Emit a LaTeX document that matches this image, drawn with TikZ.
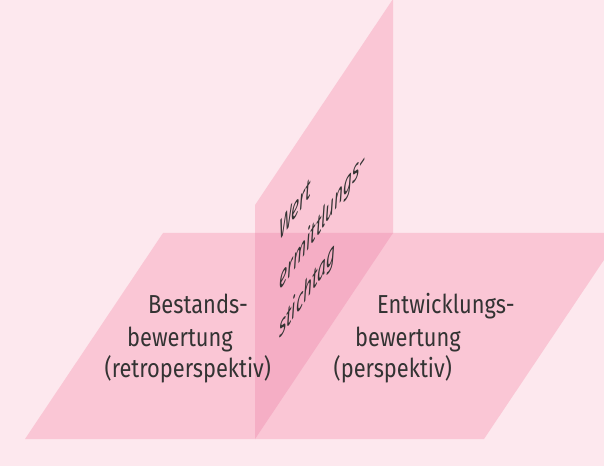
\documentclass[tikz,border=0pt]{standalone}
\usepackage{fontspec}
\setmainfont{Fira Sans}[FakeStretch=0.84]
\begin{document}
\begin{tikzpicture}[x=1pt,y=1pt,
  lbl/.style={anchor=base west, inner sep=0pt, text=ink, font=\fontsize{26}{30}\selectfont},
  slnt/.style={anchor=base west, inner sep=0pt, text=ink, transform shape, font=\fontsize{28}{32}\selectfont\itshape}]
\definecolor{bg}{HTML}{FDE8EE}
\definecolor{plane}{HTML}{FAC6D5}
\definecolor{both}{HTML}{F5AEC5}
\definecolor{ink}{HTML}{333333}
\useasboundingbox (0,0) rectangle (604,466);
\fill[bg] (0,0) rectangle (604,466);
\clip (0,0) rectangle (604,466);
% floor plane
\fill[plane] (25,27) -- (484,27) -- (622,233) -- (163,233) -- cycle;
% vertical plane
\fill[plane] (255,27) -- (393,233) -- (393,467) -- (255,261) -- cycle;
% overlap
\fill[both] (255,27) -- (393,233) -- (255,233) -- cycle;
% labels
\node[lbl] (b1) at (148,153) {Bestands-};
\node[lbl] (b2) at (127,120) {bewertung};
\node[lbl] (b3) at (104.5,89) {(retroperspektiv)};
\node[lbl] (e1) at (377,153) {Entwicklungs-};
\node[lbl] (e2) at (355,120) {bewertung};
\node[lbl] (e3) at (333.5,89) {(perspektiv)};
% slanted text on the vertical plane
\begin{scope}[shift={(279,224)}, cm={0.66,0.95,0,1,(0,0)}]
\node[slnt] (w1) at (0,0) {Wert};
\node[slnt] (w2) at (0,-50) {ermittlungs-};
\node[slnt] (w3) at (0,-98) {stichtag};
\end{scope}
\end{tikzpicture}
\end{document}
